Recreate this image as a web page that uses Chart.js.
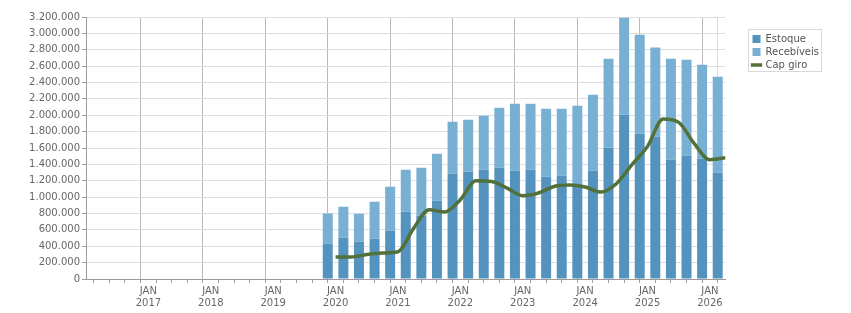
<!DOCTYPE html>
<html>
<head>
<meta charset="utf-8">
<script src="https://cdn.jsdelivr.net/npm/chart.js@4"></script>
<style>
  html, body { margin: 0; padding: 0; background: #fff; }
  #wrap { width: 851px; height: 313px; }
</style>
</head>
<body>
<div id="wrap"><canvas id="chartCapGiro"></canvas></div>
<script>
// trimestres das barras (ano-trimestre)
const trimestres = ["2019-4",
    "2020-1", "2020-2", "2020-3", "2020-4",
    "2021-1", "2021-2", "2021-3", "2021-4",
    "2022-1", "2022-2", "2022-3", "2022-4",
    "2023-1", "2023-2", "2023-3", "2023-4",
    "2024-1", "2024-2", "2024-3", "2024-4",
    "2025-1", "2025-2", "2025-3", "2025-4",
    "2026-1"];
const estoque = [430000,
    504000, 456000, 492000, 590000,
    822000, 773000, 956000, 1286000,
    1311000, 1335000, 1359000, 1323000,
    1335000, 1249000, 1262000, 1160000,
    1323000, 1604000, 2007000, 1775000,
    1738000, 1457000, 1506000, 1469000,
    1298000];
const recebiveis = [370000,
    379000, 342000, 452000, 537000,
    513000, 586000, 574000, 635000,
    635000, 660000, 733000, 818000,
    806000, 831000, 818000, 956000,
    927000, 1086000, 1185000, 1209000,
    1088000, 1233000, 1172000, 1148000,
    1172000];

// capital de giro, no inicio de cada trimestre
const datasCapGiro = [
    "2020-1", "2020-2", "2020-3", "2020-4",
    "2021-1", "2021-2", "2021-3", "2021-4",
    "2022-1", "2022-2", "2022-3", "2022-4",
    "2023-1", "2023-2", "2023-3", "2023-4",
    "2024-1", "2024-2", "2024-3", "2024-4",
    "2025-1", "2025-2", "2025-3", "2025-4",
    "2026-1", "2026-2"];
const capGiro = [
    269000, 269000, 300000, 318000,
    333000, 618000, 846000, 818000,
    969000, 1200000, 1190000, 1110000,
    1017000, 1050000, 1130000, 1148000,
    1123000, 1062000, 1164000, 1396000,
    1620000, 1954000, 1913000, 1652000,
    1457000, 1480000];

const ANO_INICIAL = 2016;
const Y_MAX = 3200000;
const Y_PASSO = 200000;

// "2020-3" -> numero de trimestres desde JAN 2016
function trimestreParaX(s) {
    const [ano, tri] = s.split("-").map(Number);
    return (ano - ANO_INICIAL) * 4 + (tri - 1);
}

function formatarMilhar(v) {
    return String(Math.round(v)).replace(/\B(?=(\d{3})+(?!\d))/g, ".");
}

const corTexto = "#6b6666";
const fonte = { family: "'DejaVu Sans', Verdana, sans-serif", size: 10 };

// contorno da legenda + posicao
const legendaBox = {
    id: "legendaBox",
    afterLayout(chart) {
        const L = chart.legend;
        if (!L) return;
        const dx = (chart.chartArea.right + 24) - L.left;
        const dy = (chart.chartArea.top + 14) - L.top;
        L.left += dx; L.right += dx;
        L.top += dy; L.bottom += dy;
    },
    afterDraw(chart) {
        const L = chart.legend;
        if (!L) return;
        const ctx = chart.ctx;
        ctx.save();
        ctx.strokeStyle = "#d8d8d8";
        ctx.lineWidth = 1;
        ctx.strokeRect(Math.round(L.left) - 1.5, Math.round(L.top) - 1.5, 73, 42);
        ctx.restore();
    }
};

function initChart() {
    const canvas = document.getElementById("chartCapGiro");
    const xsBarras = trimestres.map(t => trimestreParaX(t) + 0.5);
    const xsLinha = datasCapGiro.map(trimestreParaX);
    const xMax = trimestreParaX("2026-2");

    new Chart(canvas, {
        type: "bar",
        data: {
            datasets: [{
                type: "line",
                label: "Cap giro",
                data: xsLinha.map((x, i) => ({ x: x, y: capGiro[i] })),
                borderColor: "#52703a",
                backgroundColor: "#52703a",
                borderWidth: 3.5,
                pointRadius: 0,
                pointHoverRadius: 0,
                pointStyle: "line",
                cubicInterpolationMode: "monotone",
                borderJoinStyle: "round",
                stack: "cap",
                order: 0
            }, {
                label: "Estoque",
                data: xsBarras.map((x, i) => ({ x: x, y: estoque[i] })),
                backgroundColor: "#5593bf",
                pointStyle: "rect",
                stack: "barras",
                order: 1
            }, {
                label: "Recebíveis",
                data: xsBarras.map((x, i) => ({ x: x, y: recebiveis[i] })),
                backgroundColor: "#78b0d3",
                pointStyle: "rect",
                stack: "barras",
                order: 1
            }]
        },
        options: {
            responsive: true,
            maintainAspectRatio: false,
            animation: false,
            layout: { padding: { top: 17, right: 46, left: 0, bottom: 0 } },
            datasets: { bar: { barPercentage: 0.64, categoryPercentage: 1.0 } },
            plugins: {
                tooltip: { enabled: false },
                legend: {
                    position: "right",
                    align: "start",
                    labels: {
                        usePointStyle: true,
                        boxWidth: 8,
                        boxHeight: 8,
                        padding: 3,
                        color: "#555",
                        font: { family: fonte.family, size: 10 },
                        sort: (a, b) => {
                            const ordem = ["Estoque", "Recebíveis", "Cap giro"];
                            return ordem.indexOf(a.text) - ordem.indexOf(b.text);
                        }
                    }
                }
            },
            scales: {
                x: {
                    type: "linear",
                    stacked: true,
                    min: 0,
                    max: xMax,
                    offset: false,
                    afterFit: s => { s.height = 34; },
                    border: { color: "#9a9a9a" },
                    grid: {
                        color: c => {
                            const v = c.tick ? c.tick.value : -1;
                            if (v === xMax) return "#dcdcdc";
                            return v % 4 === 0 ? "#b8b8b8" : "rgba(0,0,0,0)";
                        },
                        tickColor: "#a0a0a0",
                        tickLength: 4
                    },
                    ticks: {
                        stepSize: 1,
                        autoSkip: false,
                        maxRotation: 0,
                        padding: 2,
                        color: corTexto,
                        font: fonte,
                        callback: v => (v % 4 === 0 && v > 0) ? ["JAN", String(ANO_INICIAL + v / 4)] : ""
                    }
                },
                y: {
                    stacked: true,
                    min: 0,
                    max: Y_MAX,
                    afterFit: s => { s.width = 86; },
                    border: { color: "#9a9a9a" },
                    grid: { color: "#dedede", tickColor: "#a0a0a0", tickLength: 4 },
                    ticks: {
                        stepSize: Y_PASSO,
                        padding: 2,
                        color: corTexto,
                        font: fonte,
                        callback: v => formatarMilhar(v)
                    }
                }
            }
        },
        plugins: [legendaBox]
    });
}

document.addEventListener("DOMContentLoaded", initChart);
</script>
</body>
</html>
